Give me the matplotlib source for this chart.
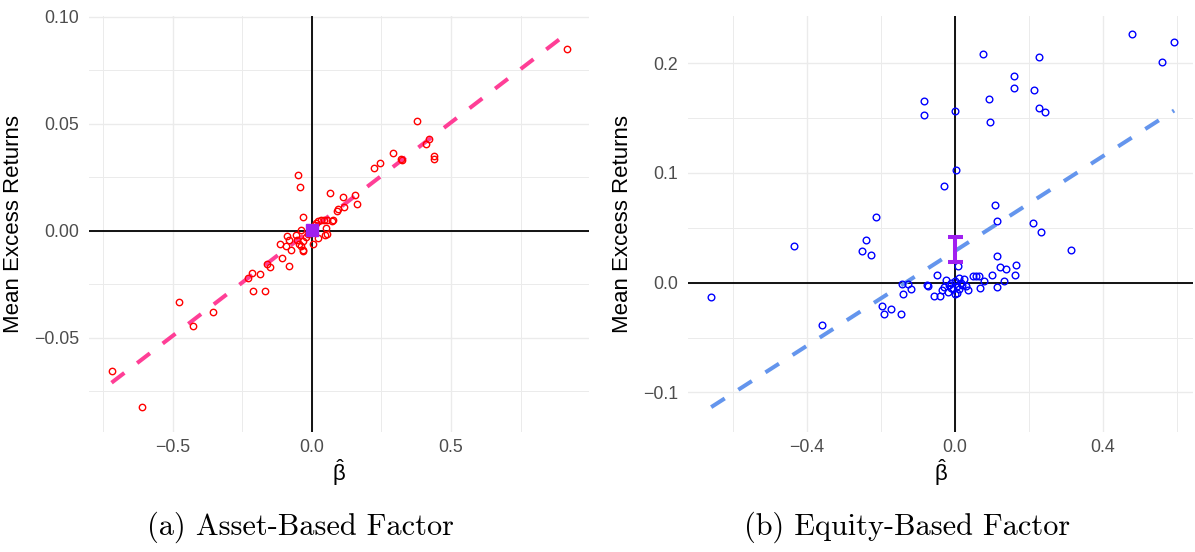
import numpy as np
import matplotlib
matplotlib.use("Agg")
import matplotlib.pyplot as plt
from matplotlib.ticker import MultipleLocator

plt.rcParams['font.family'] = ['Liberation Sans', 'DejaVu Sans']
plt.rcParams['mathtext.fontset'] = 'custom'
plt.rcParams['mathtext.rm'] = 'Liberation Sans'
plt.rcParams['mathtext.it'] = 'Liberation Sans:italic'

# Asset-based factor: estimated betas vs mean excess returns
asset_beta = [-0.719, -0.608, -0.478, -0.425, -0.356, -0.230, -0.216, -0.187, -0.212, -0.169,
              -0.162, -0.151, -0.108, -0.083, -0.076, -0.032, -0.050, -0.043, -0.032, 0.065,
              0.111, 0.155, 0.162, 0.115, 0.093, 0.091, 0.076, 0.072, 0.223, 0.245,
              0.022, 0.032, 0.043, 0.054, 0.050, 0.054, 0.047, 0.022, 0.004, -0.032,
              -0.090, -0.083, -0.115, -0.094, -0.058, -0.054, -0.047, -0.040, -0.032, -0.022,
              -0.014, -0.040, 0.010, 0.015, 0.378, 0.421, 0.410, 0.439, 0.439, 0.291,
              0.320, 0.325, 0.917]
asset_ret = [-0.0657, -0.0825, -0.0331, -0.0447, -0.0382, -0.0219, -0.0196, -0.0200, -0.0284, -0.0284,
             -0.0154, -0.0168, -0.0126, -0.0163, -0.0089, -0.0093, 0.0261, 0.0205, 0.0065, 0.0177,
             0.0158, 0.0168, 0.0126, 0.0112, 0.0103, 0.0093, 0.0051, 0.0046, 0.0294, 0.0317,
             0.0047, 0.0051, 0.0051, 0.0051, 0.0014, -0.0014, -0.0019, -0.0033, -0.0061, -0.0089,
             -0.0023, -0.0042, -0.0061, -0.0070, -0.0019, -0.0042, -0.0061, -0.0070, -0.0047, -0.0028,
             -0.0014, 0.0005, 0.0028, 0.0037, 0.0513, 0.0429, 0.0405, 0.0349, 0.0336, 0.0363,
             0.0335, 0.0333, 0.0848]
asset_fit = (0.0007, 0.0998)      # intercept, slope
asset_factor_ret = 0.0005

# Equity-based factor
equity_beta = [-0.659, -0.435, -0.359, -0.214, -0.241, -0.251, -0.228, 0.003, -0.030, -0.197,
               -0.193, -0.173, -0.146, -0.143, -0.128, -0.120, -0.140, -0.075, -0.073, -0.049,
               -0.057, -0.041, -0.024, 0.008, 0.108, 0.114, 0.211, 0.232, 0.313, 0.113,
               0.122, 0.137, 0.165, 0.162, 0.133, 0.114, 0.100, 0.068, 0.078, 0.065,
               0.057, 0.049, 0.035, 0.030, 0.478, 0.592, 0.559, 0.076, 0.227, 0.159,
               0.160, 0.214, 0.091, -0.084, -0.083, 0.000, 0.227, 0.244, 0.095,
               -0.030, -0.020, -0.015, -0.010, -0.005, 0.000, 0.005, 0.010, 0.015, 0.020,
               0.025, -0.035, 0.000, 0.005, -0.010, 0.012]
equity_ret = [-0.0132, 0.0332, -0.0386, 0.0596, 0.0386, 0.0286, 0.0250, 0.1023, 0.0877, -0.0214,
              -0.0286, -0.0241, -0.0286, -0.0014, -0.0014, -0.0059, -0.0105, -0.0023, -0.0030, 0.0068,
              -0.0123, -0.0123, 0.0023, 0.0150, 0.0705, 0.0559, 0.0541, 0.0459, 0.0295, 0.0241,
              0.0141, 0.0123, 0.0159, 0.0068, 0.0014, -0.0041, 0.0068, -0.0050, 0.0014, 0.0060,
              0.0060, 0.0060, -0.0068, -0.0032, 0.2268, 0.2195, 0.2014, 0.2086, 0.2059, 0.1886,
              0.1777, 0.1759, 0.1677, 0.1659, 0.1532, 0.1568, 0.1595, 0.1559, 0.1468,
              -0.0040, -0.0080, -0.0020, 0.0000, -0.0060, 0.0020, -0.0030, 0.0040, 0.0000, -0.0020,
              0.0030, -0.0070, -0.0100, -0.0090, -0.0050, -0.0060]
equity_fit = (0.029, 0.216)
equity_factor_lo, equity_factor_hi = 0.0186, 0.0414

W, H = 1195, 552
fig = plt.figure(figsize=(W / 100, H / 100), dpi=100)


def panel(left, right, top=16, bottom=432):
    return fig.add_axes([left / W, 1 - bottom / H, (right - left) / W, (bottom - top) / H])


def style(ax, xmaj, ymaj, fmt):
    for s in ax.spines.values():
        s.set_visible(False)
    ax.xaxis.set_major_locator(MultipleLocator(xmaj))
    ax.xaxis.set_minor_locator(MultipleLocator(xmaj / 2))
    ax.yaxis.set_major_locator(MultipleLocator(ymaj))
    ax.yaxis.set_minor_locator(MultipleLocator(ymaj / 2))
    ax.grid(which='major', color='#EBEBEB', lw=1.0)
    ax.grid(which='minor', color='#EBEBEB', lw=0.7)
    ax.set_axisbelow(True)
    ax.tick_params(which='both', length=0, labelsize=12.8, labelcolor='#4D4D4D')
    ax.tick_params(axis='y', pad=7)
    ax.tick_params(axis='x', pad=5)
    ax.yaxis.set_major_formatter(matplotlib.ticker.FuncFormatter(
        lambda v, p: (fmt % v).replace('-', '\u2212') if abs(v) > 1e-12 else fmt % 0))
    ax.xaxis.set_major_formatter(matplotlib.ticker.FuncFormatter(
        lambda v, p: ('%.1f' % v).replace('-', '\u2212') if abs(v) > 1e-12 else '0.0'))
    ax.axhline(0, color='black', lw=1.3, zorder=1)
    ax.axvline(0, color='black', lw=1.3, zorder=1)
    ax.set_xlabel(r'$\hat{\mathrm{\beta}}$', fontsize=16, labelpad=1)
    ax.set_ylabel('Mean Excess Returns', fontsize=16, labelpad=7)


# (a) asset-based factor
ax1 = panel(89, 589)
style(ax1, 0.5, 0.05, '%.2f')
xa = np.array([min(asset_beta), max(asset_beta)])
ax1.plot(xa, asset_fit[0] + asset_fit[1] * xa, color='#FF3E96', lw=2.9,
         linestyle=(0, (4, 4)), dash_capstyle='butt', zorder=2)
ax1.plot(asset_beta, asset_ret, 'o', mfc='none', mec='red', ms=4.6, mew=1.0, zorder=3)
ax1.plot([0], [asset_factor_ret], 's', color='#A020F0', ms=8.6, zorder=4)
ax1.set_xlim(-0.8, 0.996)
ax1.set_ylim(-0.0941, 0.1004)

# (b) equity-based factor
ax2 = panel(688, 1193)
style(ax2, 0.4, 0.1, '%.1f')
xb = np.array([min(equity_beta), max(equity_beta)])
ax2.plot(xb, equity_fit[0] + equity_fit[1] * xb, color='#6495ED', lw=2.9,
         linestyle=(0, (4, 4)), dash_capstyle='butt', zorder=2)
ax2.plot(equity_beta, equity_ret, 'o', mfc='none', mec='blue', ms=4.8, mew=1.0, zorder=3)
ax2.errorbar([0], [(equity_factor_lo + equity_factor_hi) / 2],
             yerr=[[(equity_factor_hi - equity_factor_lo) / 2]], color='#A020F0',
             elinewidth=2.9, capsize=5.4, capthick=2.9, fmt='none', zorder=4)
ax2.set_xlim(-0.7216, 0.643)
ax2.set_ylim(-0.136, 0.243)

fig.text(300 / W, 1 - 527 / H, '(a) Asset-Based Factor', family='cmr10',
         fontsize=21.8, ha='center', va='center')
fig.text(907 / W, 1 - 527 / H, '(b) Equity-Based Factor', family='cmr10',
         fontsize=21.8, ha='center', va='center')

fig.savefig('out.png', dpi=100)
